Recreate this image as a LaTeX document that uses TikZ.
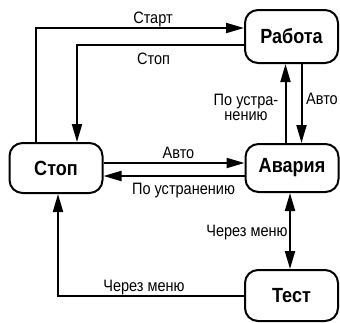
\documentclass[tikz,border=0pt]{standalone}
\usepackage{fontspec}
\setmainfont[FakeStretch=0.88]{Liberation Sans}
\usetikzlibrary{arrows.meta}
\begin{document}
\begin{tikzpicture}[x=1pt,y=-1pt,
    state/.style = {draw,line width=2pt,rounded corners=13pt,minimum width=93pt,
                    minimum height=50pt,font=\fontsize{20.5}{20.5}\selectfont\bfseries},
    arrow/.style = {line width=2pt,-{Triangle[length=18pt,width=10pt]}},
    both/.style  = {line width=2pt,{Triangle[length=18pt,width=10pt]}-{Triangle[length=18pt,width=10pt]}},
    lbl/.style   = {font=\fontsize{16.5}{15}\selectfont,inner sep=0pt,
                    text height=11.8pt,text depth=0pt}]
    \useasboundingbox (0,0) rectangle (340,322);

    \node[state,minimum height=53pt] (run)   at (291.5,36.5)  {Работа};
    \node[state]                     (stop)  at (56,168)      {Стоп};
    \node[state,minimum height=48pt] (alarm) at (292,168)     {Авария};
    \node[state,minimum height=51pt] (test)  at (291.5,295.5) {Тест};

    \draw[arrow] ([xshift=-20pt]stop.north) |- ([yshift=8.5pt]run.west);
    \draw[arrow] ([yshift=-8.5pt]run.west) -| ([xshift=21pt]stop.north);
    \draw[arrow] ([xshift=10pt]run.south) -- ([xshift=10pt]run.south |- alarm.north);
    \draw[arrow] ([xshift=-6pt]run.south |- alarm.north) -- ([xshift=-6pt]run.south);
    \draw[arrow] ([yshift=5pt]stop.east) -- ([yshift=5pt]alarm.west);
    \draw[arrow] ([yshift=-8pt]alarm.west) -- ([yshift=-8pt]stop.east);
    \draw[both] ([xshift=-2pt]alarm.south) -- ([xshift=-2pt]alarm.south |- test.north);
    \draw[arrow] (test.west) -| ([xshift=2pt]stop.south);

    \node[lbl] (lStart)  at (153,17.2)  {Старт};
    \node[lbl] (lStop)   at (153.5,59)  {Стоп};
    \node[lbl] (lAuto1)  at (322,99)    {Авто};
    \node[font=\fontsize{16.5}{15}\selectfont,inner sep=0pt,align=center]
               (lFix1)   at (246,107)   {По устра-\\нению};
    \node[lbl] (lAuto2)  at (178.5,153) {Авто};
    \node[lbl] (lFix2)   at (183.5,189) {По устранению};
    \node[lbl] (lMenu1)  at (247,231)   {Через меню};
    \node[lbl] (lMenu2)  at (144,286)   {Через меню};
\end{tikzpicture}
\end{document}
